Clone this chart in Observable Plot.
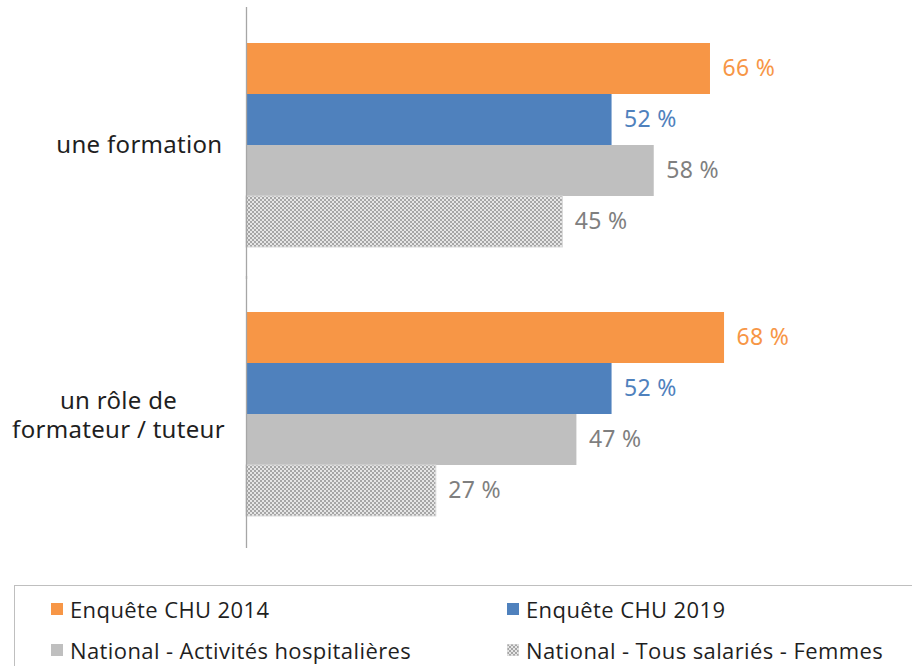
<!DOCTYPE html>
<html><head><meta charset="utf-8">
<script src="https://cdn.jsdelivr.net/npm/d3@7"></script>
<script src="https://cdn.jsdelivr.net/npm/@observablehq/plot@0.6"></script>
<style>
body{margin:0;background:#fff;font-family:"Open Sans",sans-serif;overflow:hidden;width:912px;height:666px}
#chart svg{display:block}
#legend{position:absolute;left:14px;top:585px;width:898px;height:81px;border:1px solid #bfbfbf;border-right:none;border-bottom:none;box-sizing:border-box;font-size:22px;letter-spacing:0.4px;color:#1f1f1f}
.item{position:absolute;display:flex;align-items:center;white-space:nowrap;line-height:22px}
.sw{width:12px;height:12px;margin-right:7px;display:inline-block;flex:none}
#chart text{letter-spacing:0.3px}
</style></head><body>
<svg width="0" height="0" style="position:absolute">
  <defs>
    <pattern id="checker" width="4" height="4" patternUnits="userSpaceOnUse">
      <rect width="4" height="4" fill="#e6e6e6"></rect>
      <rect width="2" height="2" fill="#a6a6a6"></rect>
      <rect x="2" y="2" width="2" height="2" fill="#a6a6a6"></rect>
    </pattern>
  </defs>
</svg>
<div id="chart"></div>
<div id="legend"></div>
<script>
const groups = ["une formation", "un rôle de\nformateur / tuteur"];
const series = ["Enquête CHU 2014", "Enquête CHU 2019", "National - Activités hospitalières", "National - Tous salariés - Femmes"];
const valuesFormation = [66, 52, 58, 45];
const valuesRole = [68, 52, 47, 27];
const barColors = ["#F79646", "#4F81BD", "#BFBFBF", "url(#checker)"];
const labelColors = ["#F79646", "#4F81BD", "#7F7F7F", "#7F7F7F"];

const data = [];
[valuesFormation, valuesRole].forEach((vals, gi) => {
  vals.forEach((v, si) => data.push({group: groups[gi], series: series[si], value: v, si}));
});

const chart = Plot.plot({
  width: 912,
  height: 575,
  marginLeft: 246,
  marginRight: 0,
  marginTop: 10,
  marginBottom: 27,
  x: {domain: [0, 666 / 7.03], axis: null},
  y: {domain: series, padding: 0, axis: null},
  fy: {domain: groups, paddingInner: 0.23, paddingOuter: 0.115, axis: null, label: null},
  color: {type: "identity"},
  marks: [
    Plot.barX(data, {
      fy: "group", y: "series", x: "value",
      fill: d => barColors[d.si],
      stroke: d => d.si === 3 ? "#d9d9d9" : "none",
      strokeWidth: 1
    }),
    Plot.text(data, {
      fy: "group", y: "series", x: "value",
      text: d => d.value + " %",
      dx: 12, textAnchor: "start",
      fill: d => labelColors[d.si],
      fontSize: 23
    }),
    Plot.ruleX([0], {stroke: "#a6a6a6", strokeWidth: 1.3, insetTop: -34, insetBottom: -31}),
    Plot.axisFy({ticks: [groups[0]], anchor: "left", tickSize: 0, tickPadding: 24, textAnchor: "end", fontSize: 24, fill: "#1f1f1f", label: null}),
    Plot.axisFy({ticks: [groups[1]], anchor: "left", tickSize: 0, tickPadding: 0, dx: -128, textAnchor: "middle", fontSize: 24, lineHeight: 1.22, fill: "#1f1f1f", label: null})
  ]
});
document.getElementById("chart").appendChild(chart);

const legend = document.getElementById("legend");
const pos = [[36, 12], [492, 12], [36, 53], [492, 53]];
series.forEach((s, i) => {
  const it = document.createElement("div");
  it.className = "item";
  it.style.left = pos[i][0] + "px";
  it.style.top = pos[i][1] + "px";
  const sw = document.createElementNS("http://www.w3.org/2000/svg", "svg");
  sw.setAttribute("width", 12); sw.setAttribute("height", 12);
  sw.setAttribute("class", "sw");
  const r = document.createElementNS("http://www.w3.org/2000/svg", "rect");
  r.setAttribute("width", 12); r.setAttribute("height", 12);
  r.setAttribute("fill", barColors[i]);
  if (i === 3) r.setAttribute("stroke", "#d9d9d9");
  sw.appendChild(r);
  it.appendChild(sw);
  it.appendChild(document.createTextNode(s));
  legend.appendChild(it);
});
</script>
</body></html>
